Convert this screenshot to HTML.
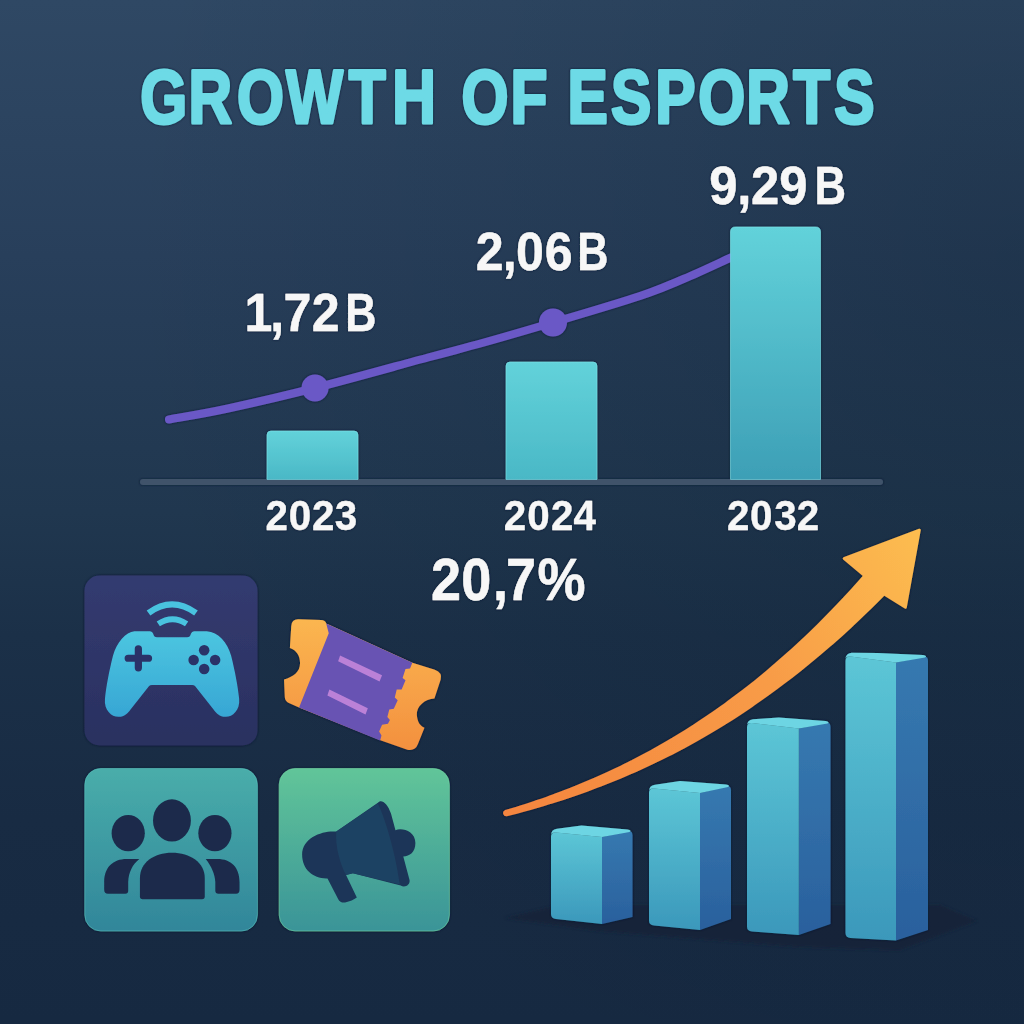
<!DOCTYPE html>
<html lang="en"><head><meta charset="utf-8"><title>Growth of Esports</title>
<style>
html,body{margin:0;padding:0;background:#1b2e46;}
body{width:1024px;height:1024px;overflow:hidden;}
svg{display:block;}
text{font-family:"Liberation Sans",sans-serif;font-weight:bold;stroke-linejoin:round;}
</style></head>
<body>
<svg width="1024" height="1024" viewBox="0 0 1024 1024">
<defs>
<linearGradient id="bg" x1="0" y1="0" x2="0" y2="1">
<stop offset="0" stop-color="#2f4864"/><stop offset="0.25" stop-color="#283f5b"/><stop offset="0.5" stop-color="#20374f"/><stop offset="0.62" stop-color="#1b3048"/><stop offset="0.8" stop-color="#182b43"/><stop offset="1" stop-color="#162941"/>
</linearGradient>
<radialGradient id="bgx" gradientUnits="userSpaceOnUse" cx="1024" cy="260" r="900">
<stop offset="0" stop-color="#00101c" stop-opacity="0.22"/><stop offset="0.5" stop-color="#00101c" stop-opacity="0.10"/><stop offset="1" stop-color="#00101c" stop-opacity="0"/>
</radialGradient>
<linearGradient id="bar" x1="0" y1="0" x2="0" y2="1">
<stop offset="0" stop-color="#62d2da"/><stop offset="1" stop-color="#4ab8c6"/>
</linearGradient>
<linearGradient id="bar3" x1="0" y1="0" x2="0" y2="1">
<stop offset="0" stop-color="#62d2da"/><stop offset="1" stop-color="#3d9fb6"/>
</linearGradient>
<linearGradient id="tile1" x1="0" y1="0" x2="0" y2="1">
<stop offset="0" stop-color="#333b70"/><stop offset="1" stop-color="#2a3060"/>
</linearGradient>
<linearGradient id="pad" x1="0" y1="0" x2="0" y2="1">
<stop offset="0" stop-color="#4cc6e0"/><stop offset="1" stop-color="#37a6d4"/>
</linearGradient>
<linearGradient id="tile2" x1="0" y1="0" x2="0" y2="1">
<stop offset="0" stop-color="#49adaa"/><stop offset="1" stop-color="#31869a"/>
</linearGradient>
<linearGradient id="tile3" x1="0" y1="0" x2="0" y2="1">
<stop offset="0" stop-color="#61c599"/><stop offset="1" stop-color="#3a9498"/>
</linearGradient>
<linearGradient id="tk" x1="0" y1="0" x2="0" y2="1">
<stop offset="0" stop-color="#fbb650"/><stop offset="1" stop-color="#f3903f"/>
</linearGradient>
<linearGradient id="arrow" gradientUnits="userSpaceOnUse" x1="505" y1="813" x2="915" y2="535">
<stop offset="0" stop-color="#f4853f"/><stop offset="0.6" stop-color="#f89c47"/><stop offset="1" stop-color="#fcbc50"/>
</linearGradient>
<linearGradient id="front" x1="0" y1="0" x2="0" y2="1">
<stop offset="0" stop-color="#5cc6d6"/><stop offset="1" stop-color="#3b98bb"/>
</linearGradient>
<linearGradient id="side" x1="0" y1="0" x2="0" y2="1">
<stop offset="0" stop-color="#3679b0"/><stop offset="1" stop-color="#2a609d"/>
</linearGradient>
<filter id="ol" x="0" y="0" width="1024" height="1024" filterUnits="userSpaceOnUse"><feDropShadow dx="0" dy="0" stdDeviation="0.9" flood-color="#0c1330" flood-opacity="0.9"/></filter>
<filter id="blur4" x="-20%" y="-50%" width="140%" height="200%"><feGaussianBlur stdDeviation="1.6"/></filter>
</defs>
<rect x="0" y="0" width="1024" height="1024" fill="url(#bg)"/>
<rect x="0" y="0" width="1024" height="1024" fill="url(#bgx)"/>
<path d="M505,918 L560,905 L940,905 L977,921 L900,950 L800,947 L600,931 Z" fill="#122137" opacity="0.8" filter="url(#blur4)"/>
<g filter="url(#ol)">
<text transform="scale(0.8000,1)" x="175.3 235.7 296.4 357.5 435.9 490.2 535.5 576.8 638.2 683.5 709.4 763.8 819.0 872.8 932.9 991.6 1042.8" y="123.0" font-size="75.5" fill="#6ddae6" stroke="#6ddae6" stroke-width="3.0">GROWTH OF ESPORTS</text>
<rect x="140" y="479" width="743" height="6" rx="3" fill="#40536b"/>
<path d="M169.0,419.5 C178.8,417.7 203.7,413.8 228.0,408.5 C252.3,403.2 281.7,396.5 315.0,388.0 C348.3,379.5 399.8,365.1 428.0,357.5 C456.2,349.9 463.2,348.3 484.0,342.5 C504.8,336.7 527.0,330.2 553.0,322.5 C579.0,314.8 618.2,303.3 640.0,296.0 C661.8,288.7 668.8,285.2 684.0,278.8 C699.2,272.3 723.2,261.0 731.0,257.5" fill="none" stroke="#6b59c6" stroke-width="8" stroke-linecap="round"/>
<circle cx="315" cy="388" r="13.5" fill="#6b59c6"/>
<circle cx="553" cy="322.5" r="14" fill="#6b59c6"/>
<path d="M267.0,479.5 V435.0 Q267.0,431.0 271.0,431.0 H354.0 Q358.0,431.0 358.0,435.0 V479.5 Z" fill="url(#bar)" stroke="#7fe6ec" stroke-opacity="0.55" stroke-width="1"/>
<path d="M506.0,479.5 V366.0 Q506.0,362.0 510.0,362.0 H593.0 Q597.0,362.0 597.0,366.0 V479.5 Z" fill="url(#bar)" stroke="#7fe6ec" stroke-opacity="0.55" stroke-width="1"/>
<path d="M730.5,479.5 V232.0 Q730.5,227.0 735.5,227.0 H815.5 Q820.5,227.0 820.5,232.0 V479.5 Z" fill="url(#bar3)" stroke="#7fe6ec" stroke-opacity="0.55" stroke-width="1"/>
<text transform="scale(0.9300,1)" x="262.8 290.7 304.8 335.2 367.5 371.2" y="331.1" font-size="53.9" fill="#f7f7f7" stroke="#f7f7f7" stroke-width="0.4">1,72 <tspan textLength="33.5" lengthAdjust="spacingAndGlyphs">B</tspan></text>
<text transform="scale(0.9300,1)" x="511.6 540.7 554.8 585.7 618.0 620.8" y="269.8" font-size="53.9" fill="#f7f7f7" stroke="#f7f7f7" stroke-width="0.4">2,06 <tspan textLength="33.5" lengthAdjust="spacingAndGlyphs">B</tspan></text>
<text transform="scale(0.9300,1)" x="762.7 792.8 807.5 838.0 870.7 875.8" y="204.3" font-size="54.6" fill="#f7f7f7" stroke="#f7f7f7" stroke-width="0.4">9,29 <tspan textLength="33.9" lengthAdjust="spacingAndGlyphs">B</tspan></text>
<text transform="scale(0.9300,1)" x="285.4 310.4 335.6 360.0" y="529.9" font-size="43.4" fill="#f7f7f7" stroke="#f7f7f7" stroke-width="0.3">2023</text>
<text transform="scale(0.9300,1)" x="541.8 567.0 592.6 616.8" y="529.9" font-size="43.4" fill="#f7f7f7" stroke="#f7f7f7" stroke-width="0.3">2024</text>
<text transform="scale(0.9300,1)" x="781.7 806.5 832.6 856.6" y="529.9" font-size="43.4" fill="#f7f7f7" stroke="#f7f7f7" stroke-width="0.3">2032</text>
<text transform="scale(0.9000,1)" x="478.8 512.5 547.9 562.1 597.3" y="600.2" font-size="60.0" fill="#f7f7f7" stroke="#f7f7f7" stroke-width="0.5">20,7%</text>
<rect x="84.5" y="575.5" width="173" height="170" rx="15" fill="url(#tile1)"/>
<g transform="translate(70,560) scale(0.1953125)">
<path d="M330,365 H410 Q422,365 426,378 Q430,396 445,396 H600 Q615,396 619,378 Q623,365 635,365 H700 C760,370 805,420 825,490 C845,570 860,650 866,710 C872,770 830,805 795,803 C765,801 750,785 735,765 L640,645 Q635,640 625,640 H420 Q410,640 405,645 L310,765 C295,785 280,801 250,803 C215,805 173,770 179,710 C185,650 200,570 220,490 C240,420 285,370 330,365 Z" fill="url(#pad)"/>
<path d="M350,455 V552 M298,503 H402" stroke="#2b3367" stroke-width="37" stroke-linecap="round" fill="none"/>
<circle cx="687" cy="462" r="27" fill="#2b3367"/>
<circle cx="633" cy="512" r="27" fill="#2b3367"/>
<circle cx="743" cy="512" r="27" fill="#2b3367"/>
<circle cx="687" cy="558" r="27" fill="#2b3367"/>
<path d="M402,271 Q522,183 645,271" stroke="#49c3df" stroke-width="32" fill="none"/>
<path d="M452,327 Q525,279 597,327" stroke="#49c3df" stroke-width="30" fill="none"/>
</g>
<g transform="translate(260,590) scale(0.1953125)">
<path d="M195,150 L312,154 Q335,155 339,172 L780,372 L895,408 Q935,423 925,458 L893,555 C845,557 800,595 803,640 C806,678 820,695 842,705 L808,790 Q795,825 755,818 L620,770 L200,602 L148,578 Q128,570 127,548 L123,458 C170,445 205,420 205,375 C205,335 188,310 153,297 L160,185 Q162,150 195,150 Z" fill="url(#tk)"/>
<path d="M339,171 L780,372 L768,402 L745,405 L730,450 L745,462 L725,510 L700,510 L690,550 L705,565 L685,608 L662,612 L652,650 L665,665 L655,685 L625,690 L610,725 L622,745 L615,770 L200,602 L352,222 Z" fill="#6753b3"/>
<path d="M410,335 L625,437 L612,468 L400,365 Z" fill="#bb81d7"/>
<path d="M355,510 L552,605 L540,637 L345,540 Z" fill="#bb81d7"/>
</g>
<rect x="84.8" y="768.5" width="172.6" height="162.5" rx="16" fill="url(#tile2)" stroke="#5cc7c2" stroke-opacity="0.55" stroke-width="1"/>
<g transform="translate(70,755) scale(0.1953125)" fill="#1b2c4c">
<ellipse cx="522" cy="335" rx="97" ry="108"/>
<ellipse cx="298" cy="400" rx="85" ry="93"/>
<ellipse cx="742" cy="400" rx="85" ry="93"/>
<path d="M372,738 Q358,738 358,724 V630 C358,550 430,500 522,500 C615,500 690,550 690,630 V724 Q690,738 676,738 Z"/>
<path d="M195,710 Q175,710 175,690 V650 C175,575 220,532 290,532 H355 C320,560 300,600 298,650 V695 Q298,710 283,710 Z"/>
<path d="M850,710 Q868,710 868,690 V650 C868,575 825,532 755,532 H695 C725,570 742,610 744,650 V695 Q744,710 760,710 Z"/>
</g>
<rect x="279.2" y="768.5" width="170.2" height="162.5" rx="16" fill="url(#tile3)" stroke="#74d8a8" stroke-opacity="0.55" stroke-width="1"/>
<g transform="translate(265,755) scale(0.1953125)">
<path d="M365,392 L578,245 C592,225 625,240 645,300 L668,385 C700,370 770,390 770,450 C770,500 740,515 708,520 L740,640 C745,665 715,682 695,668 L450,605 L415,615 L470,730 C455,742 435,750 410,755 Q385,758 375,738 L320,632 C250,635 190,590 190,510 C190,420 300,385 365,392 Z" fill="#1b3658"/>
<path d="M365,392 L578,248 C625,350 670,520 690,662 L450,605 L415,615 C385,560 360,470 365,392 Z" fill="#1e4364"/>
</g>
<path d="M602.0,837.0 L628.5,831.3 Q632.5,830.5 632.5,835.5 L632.5,917.0 L602.0,924.0 Z" fill="url(#side)"/>
<path d="M551.0,837.0 Q551.0,832.0 556.0,832.5 L602.0,837.0 L602.0,924.0 L556.0,919.0 Q551.0,918.5 551.0,914.0 Z" fill="url(#front)"/>
<path d="M551.0,835.5 Q551.0,829.5 557.0,828.7 L581.5,825.5 L627.5,829.5 Q632.5,830.5 629.5,832.0 L602.0,837.0 L556.0,832.6 Q551.0,832.0 551.0,835.5 Z" fill="#6dd5e3"/>
<path d="M700.0,793.0 L727.0,786.3 Q731.0,785.5 731.0,790.5 L731.0,919.0 L700.0,930.0 Z" fill="url(#side)"/>
<path d="M649.0,793.0 Q649.0,788.0 654.0,788.5 L700.0,793.0 L700.0,930.0 L654.0,925.5 Q649.0,925.0 649.0,920.5 Z" fill="url(#front)"/>
<path d="M649.0,791.5 Q649.0,785.5 655.0,784.7 L680.0,781.0 L726.0,784.5 Q731.0,785.5 728.0,787.0 L700.0,793.0 L654.0,788.6 Q649.0,788.0 649.0,791.5 Z" fill="#6dd5e3"/>
<path d="M798.8,728.5 L826.5,722.8 Q830.5,722.0 830.5,727.0 L830.5,924.0 L798.8,935.0 Z" fill="url(#side)"/>
<path d="M747.0,727.5 Q747.0,722.5 752.0,723.0 L798.8,728.5 L798.8,935.0 L752.0,931.5 Q747.0,931.0 747.0,926.5 Z" fill="url(#front)"/>
<path d="M747.0,726.0 Q747.0,720.0 753.0,719.2 L778.8,717.5 L825.5,721.0 Q830.5,722.0 827.5,723.5 L798.8,728.5 L752.0,723.1 Q747.0,722.5 747.0,726.0 Z" fill="#6dd5e3"/>
<path d="M896.0,662.5 L924.0,656.8 Q928.0,656.0 928.0,661.0 L928.0,930.0 L896.0,940.5 Z" fill="url(#side)"/>
<path d="M845.5,661.0 Q845.5,656.0 850.5,656.5 L896.0,662.5 L896.0,940.5 L850.5,938.0 Q845.5,937.5 845.5,933.0 Z" fill="url(#front)"/>
<path d="M845.5,659.5 Q845.5,653.5 851.5,652.7 L877.5,653.0 L923.0,655.0 Q928.0,656.0 925.0,657.5 L896.0,662.5 L850.5,656.6 Q845.5,656.0 845.5,659.5 Z" fill="#6dd5e3"/>
<path d="M505.5,811.3 C508.1,810.5 516.1,808.1 521.4,806.4 C526.7,804.8 531.9,803.0 537.2,801.2 C542.5,799.4 547.8,797.6 553.1,795.6 C558.4,793.7 563.6,791.7 568.9,789.7 C574.2,787.6 579.4,785.5 584.7,783.2 C590.0,781.0 595.2,778.8 600.5,776.4 C605.7,774.1 611.0,771.6 616.2,769.1 C621.5,766.6 626.7,764.0 632.0,761.4 C637.2,758.7 642.4,755.9 647.7,753.1 C652.9,750.3 658.1,747.3 663.3,744.3 C668.5,741.3 673.8,738.2 679.0,735.0 C684.2,731.9 689.4,728.6 694.6,725.2 C699.8,721.8 705.0,718.4 710.2,714.8 C715.4,711.3 720.5,707.6 725.7,703.9 C730.9,700.1 736.1,696.2 741.3,692.3 C746.4,688.3 751.6,684.3 756.8,680.1 C761.9,675.9 767.1,671.6 772.2,667.3 C777.4,662.9 782.5,658.4 787.7,653.8 C792.8,649.2 798.0,644.5 803.1,639.6 C808.3,634.8 813.4,629.8 818.5,624.8 C823.7,619.7 828.8,614.5 833.9,609.2 C839.0,603.9 844.1,598.5 849.3,592.9 C854.4,587.4 862.0,578.7 864.6,575.9 L844,558.5 L919.5,530 L905.5,607.5 L884.2,594.1 C881.4,596.9 873.1,605.3 867.5,610.7 C861.9,616.1 856.4,621.4 850.8,626.5 C845.3,631.7 839.7,636.7 834.2,641.6 C828.6,646.4 823.1,651.2 817.5,655.9 C812.0,660.5 806.5,665.0 800.9,669.5 C795.4,673.9 789.9,678.2 784.3,682.3 C778.8,686.5 773.3,690.6 767.8,694.6 C762.3,698.5 756.8,702.4 751.3,706.1 C745.8,709.9 740.3,713.5 734.8,717.1 C729.3,720.6 723.8,724.0 718.3,727.4 C712.8,730.7 707.3,734.0 701.8,737.1 C696.4,740.3 690.9,743.3 685.4,746.3 C679.9,749.2 674.5,752.1 669.0,754.9 C663.6,757.6 658.1,760.3 652.7,762.9 C647.2,765.5 641.8,768.1 636.3,770.5 C630.9,772.9 625.4,775.3 620.0,777.6 C614.6,779.8 609.2,782.0 603.7,784.2 C598.3,786.3 592.9,788.3 587.5,790.3 C582.1,792.3 576.6,794.2 571.2,796.0 C565.8,797.9 560.4,799.7 555.0,801.4 C549.6,803.1 544.2,804.7 538.8,806.3 C533.4,807.9 528.1,809.4 522.7,810.9 C517.3,812.3 509.2,814.4 506.5,815.1 A2.0,2.0 0 0 1 505.5,811.3 Z" fill="url(#arrow)" stroke="url(#arrow)" stroke-width="2.5" stroke-linejoin="round"/>
</g>
</svg>
</body></html>
